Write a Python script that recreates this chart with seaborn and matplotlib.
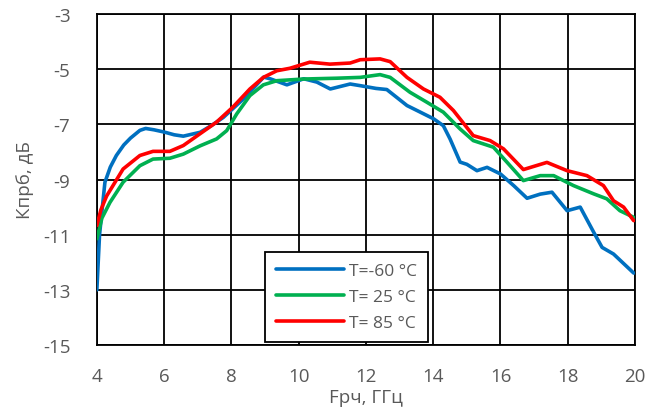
import numpy as np
import pandas as pd
import matplotlib
matplotlib.use("Agg")
import matplotlib.pyplot as plt
import seaborn as sns

x_blue = [4.0, 4.08, 4.24, 4.4, 4.58, 4.8, 5.0, 5.28, 5.45, 5.7, 6.0, 6.3, 6.57, 7.07, 7.4, 7.76, 8.36, 8.96, 9.15, 9.65, 10.15, 10.54, 10.94, 11.53, 11.83, 12.3, 12.62, 13.22, 13.6, 14.01, 14.3, 14.5, 14.8, 15.0, 15.3, 15.6, 16.0, 16.4, 16.79, 17.18, 17.53, 17.98, 18.37, 18.77, 19.02, 19.36, 19.96]
y_blue = [-13.0, -11.0, -9.1, -8.55, -8.13, -7.75, -7.5, -7.22, -7.15, -7.2, -7.28, -7.38, -7.43, -7.29, -7.05, -6.75, -6.08, -5.29, -5.35, -5.57, -5.35, -5.47, -5.72, -5.54, -5.6, -5.7, -5.74, -6.32, -6.55, -6.8, -7.05, -7.53, -8.37, -8.45, -8.68, -8.56, -8.8, -9.23, -9.68, -9.53, -9.46, -10.13, -10.0, -10.91, -11.46, -11.7, -12.39]

x_green = [4.0, 4.15, 4.39, 4.78, 5.28, 5.67, 6.17, 6.57, 7.07, 7.56, 7.86, 8.16, 8.55, 8.95, 9.35, 10.14, 11.13, 11.83, 12.42, 12.72, 13.31, 13.81, 14.3, 14.8, 15.19, 15.79, 16.19, 16.68, 17.18, 17.58, 18.17, 18.77, 19.16, 19.55, 19.96]
y_green = [-11.15, -10.4, -9.83, -9.1, -8.5, -8.26, -8.23, -8.08, -7.78, -7.53, -7.23, -6.62, -5.96, -5.57, -5.42, -5.36, -5.33, -5.3, -5.2, -5.3, -5.84, -6.2, -6.56, -7.17, -7.59, -7.83, -8.37, -9.04, -8.86, -8.86, -9.22, -9.52, -9.7, -10.13, -10.37]

x_red = [4.0, 4.12, 4.29, 4.78, 5.28, 5.67, 6.17, 6.57, 7.07, 7.56, 8.05, 8.55, 8.95, 9.35, 9.74, 10.33, 10.93, 11.53, 11.83, 12.42, 12.72, 13.22, 13.71, 14.2, 14.6, 15.19, 15.69, 16.09, 16.68, 17.38, 17.98, 18.57, 19.06, 19.36, 19.66, 19.96]
y_red = [-10.67, -10.1, -9.6, -8.62, -8.13, -7.98, -7.98, -7.77, -7.34, -6.92, -6.37, -5.72, -5.3, -5.06, -4.97, -4.75, -4.82, -4.78, -4.66, -4.63, -4.73, -5.3, -5.72, -6.02, -6.5, -7.41, -7.59, -7.89, -8.64, -8.38, -8.68, -8.86, -9.22, -9.77, -10.0, -10.49]

labels = ["T=-60 °C", "T= 25 °C", "T= 85 °C"]
colors = ["#0070C0", "#00B050", "#FF0000"]

df = pd.concat([
    pd.DataFrame({"x": x_blue, "y": y_blue, "T": labels[0]}),
    pd.DataFrame({"x": x_green, "y": y_green, "T": labels[1]}),
    pd.DataFrame({"x": x_red, "y": y_red, "T": labels[2]}),
], ignore_index=True)

sns.set_style("white")
plt.rcParams["font.family"] = ["Open Sans", "DejaVu Sans"]
plt.rcParams["axes.unicode_minus"] = False

fig = plt.figure(figsize=(6.5, 4.14), dpi=100)
ax = fig.add_axes([0.149, 0.164, 0.828, 0.800])

sns.lineplot(data=df, x="x", y="y", hue="T", palette=colors, sort=False,
             estimator=None, linewidth=2.6, ax=ax, zorder=3)

ax.set_xlim(4, 20)
ax.set_ylim(-15, -3)
ax.set_xticks(np.arange(4, 21, 2))
ax.set_yticks(np.arange(-15, -2, 2))
ax.grid(True, color="black", linewidth=1.3)
for s in ax.spines.values():
    s.set_color("black")
    s.set_linewidth(1.3)
ax.tick_params(axis="x", length=0, labelsize=13.5, labelcolor="#595959", pad=16)
ax.tick_params(axis="y", length=0, labelsize=13.5, labelcolor="#595959", pad=19)
ax.set_xlabel("Fрч, ГГц", fontsize=13.5, color="#595959")
ax.set_ylabel("Кпрб, дБ", fontsize=13.5, color="#595959")
ax.xaxis.set_label_coords(0.5, -0.13)
ax.yaxis.set_label_coords(-0.117, 0.5)

leg = ax.legend(loc="lower left", bbox_to_anchor=(0.312, 0.009), fontsize=12.5,
                frameon=True, fancybox=False, edgecolor="black", framealpha=1,
                handlelength=3.9, handletextpad=0.3, labelspacing=0.55,
                borderpad=0.65, borderaxespad=0)
leg.get_frame().set_linewidth(1.3)
for t in leg.get_texts():
    t.set_color("#595959")
for h in leg.get_lines():
    h.set_linewidth(2.6)

fig.savefig("out.png", dpi=100)
